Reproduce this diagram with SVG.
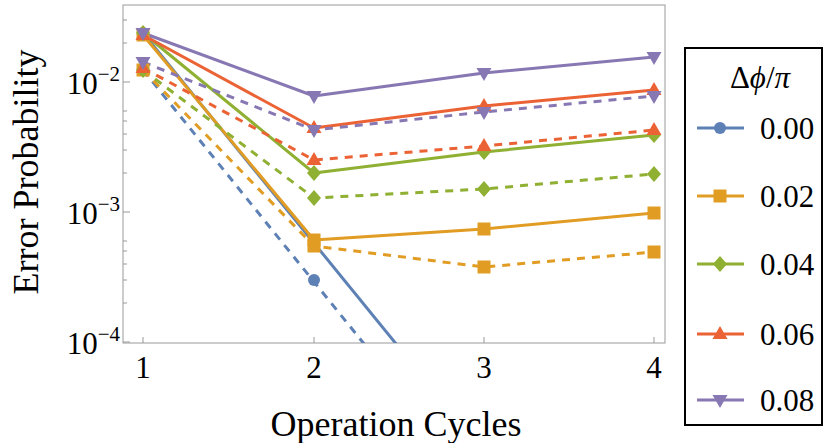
<svg xmlns="http://www.w3.org/2000/svg" width="830" height="443" viewBox="0 0 830 443">
<style>
text{font-family:"Liberation Serif",serif;fill:#000}
.t{font-size:31px}
.L{font-size:36px}
.sup{font-size:21px}
.s{fill:none;stroke-width:3;stroke-linejoin:round}
.d{stroke-dasharray:8,7}
.b{stroke:#5E81B5}.bf{fill:#5E81B5}
.o{stroke:#E19C24}.of{fill:#E19C24}
.g{stroke:#8FB032}.gf{fill:#8FB032}
.r{stroke:#EB6235}.rf{fill:#EB6235}
.p{stroke:#8778B3}.pf{fill:#8778B3}
.ax{stroke:#999;stroke-width:1;fill:none}
</style>
<defs>
<symbol id="ci" overflow="visible"><circle r="6"/></symbol>
<symbol id="sq" overflow="visible"><rect x="-6.5" y="-6.5" width="13" height="13"/></symbol>
<symbol id="di" overflow="visible"><path d="M0,-8 L7,0 L0,8 L-7,0Z"/></symbol>
<symbol id="tu" overflow="visible"><path d="M0,-8 L7.5,5 L-7.5,5Z"/></symbol>
<symbol id="td" overflow="visible"><path d="M0,8 L7.5,-5 L-7.5,-5Z"/></symbol>
<clipPath id="cp"><rect x="123" y="5" width="542" height="338"/></clipPath>
</defs>
<g id="axes">
<rect class="ax" x="123" y="5" width="542" height="338"/>
<path class="ax" d="M143,343v-6M314,343v-6M484,343v-6M654,343v-6M123,82h7M123,212h7M123,342h7M123,43h4M123,20h4M123,173h4M123,150h4M123,134h4M123,121h4M123,303h4M123,280h4M123,264h4M123,251h4M123,111h4M123,241h4"/>
<text class="t" x="143" y="378" text-anchor="middle">1</text>
<text class="t" x="314" y="378" text-anchor="middle">2</text>
<text class="t" x="484" y="378" text-anchor="middle">3</text>
<text class="t" x="654" y="378" text-anchor="middle">4</text>
<text class="t" x="120" y="94" text-anchor="end">10<tspan class="sup" dy="-13">−2</tspan></text>
<text class="t" x="120" y="224" text-anchor="end">10<tspan class="sup" dy="-13">−3</tspan></text>
<text class="t" x="120" y="354" text-anchor="end">10<tspan class="sup" dy="-13">−4</tspan></text>
<text class="L" x="396" y="436" text-anchor="middle">Operation Cycles</text>
<text class="L" transform="translate(38,172) rotate(-90)" text-anchor="middle">Error Probability</text>
</g>
<g id="connectors" clip-path="url(#cp)">
<path class="s b" d="M143,33 L397,345"/>
<path class="s b d" d="M143,70 L365,345"/>
<path class="s o" d="M143,35 L314,240 L484,229 L654,213"/>
<path class="s o d" d="M143,70 L314,246 L484,267 L654,252"/>
<path class="s g" d="M143,33 L314,173 L484,152 L654,135"/>
<path class="s g d" d="M143,70 L314,198 L484,189 L654,174"/>
<path class="s r" d="M143,35 L314,128 L484,106 L654,90"/>
<path class="s r d" d="M143,68 L314,160 L484,146 L654,130"/>
<path class="s p" d="M143,33 L314,96 L484,73 L654,57"/>
<path class="s p d" d="M143,62 L314,130 L484,112 L654,96"/>
</g>
<g id="markers">
<use href="#ci" class="bf" x="143" y="33"/><use href="#ci" class="bf" x="143" y="70"/><use href="#ci" class="bf" x="314" y="280"/>
<use href="#sq" class="of" x="143" y="35"/><use href="#sq" class="of" x="314" y="240"/><use href="#sq" class="of" x="484" y="229"/><use href="#sq" class="of" x="654" y="213"/>
<use href="#sq" class="of" x="143" y="70"/><use href="#sq" class="of" x="314" y="246"/><use href="#sq" class="of" x="484" y="267"/><use href="#sq" class="of" x="654" y="252"/>
<use href="#di" class="gf" x="143" y="33"/><use href="#di" class="gf" x="314" y="173"/><use href="#di" class="gf" x="484" y="152"/><use href="#di" class="gf" x="654" y="135"/>
<use href="#di" class="gf" x="143" y="70"/><use href="#di" class="gf" x="314" y="198"/><use href="#di" class="gf" x="484" y="189"/><use href="#di" class="gf" x="654" y="174"/>
<use href="#tu" class="rf" x="143" y="35"/><use href="#tu" class="rf" x="314" y="128"/><use href="#tu" class="rf" x="484" y="106"/><use href="#tu" class="rf" x="654" y="90"/>
<use href="#tu" class="rf" x="143" y="68"/><use href="#tu" class="rf" x="314" y="160"/><use href="#tu" class="rf" x="484" y="146"/><use href="#tu" class="rf" x="654" y="130"/>
<use href="#td" class="pf" x="143" y="33"/><use href="#td" class="pf" x="314" y="96"/><use href="#td" class="pf" x="484" y="73"/><use href="#td" class="pf" x="654" y="57"/>
<use href="#td" class="pf" x="143" y="62"/><use href="#td" class="pf" x="314" y="130"/><use href="#td" class="pf" x="484" y="112"/><use href="#td" class="pf" x="654" y="96"/>
</g>
<g id="legend">
<rect x="685" y="48" width="137" height="377" fill="#fff" stroke="#000" stroke-width="2"/>
<text class="t" x="760" y="88" text-anchor="middle">Δ<tspan font-style="italic">ϕ</tspan>/<tspan font-style="italic">π</tspan></text>
<path class="s b" d="M697,128h47"/><use href="#ci" class="bf" x="720" y="128"/><text class="t" x="760" y="139">0.00</text>
<path class="s o" d="M697,196h47"/><use href="#sq" class="of" x="720" y="196"/><text class="t" x="760" y="207">0.02</text>
<path class="s g" d="M697,264h47"/><use href="#di" class="gf" x="720" y="264"/><text class="t" x="760" y="275">0.04</text>
<path class="s r" d="M697,334h47"/><use href="#tu" class="rf" x="720" y="334"/><text class="t" x="760" y="345">0.06</text>
<path class="s p" d="M697,400h47"/><use href="#td" class="pf" x="720" y="400"/><text class="t" x="760" y="411">0.08</text>
</g>
</svg>
